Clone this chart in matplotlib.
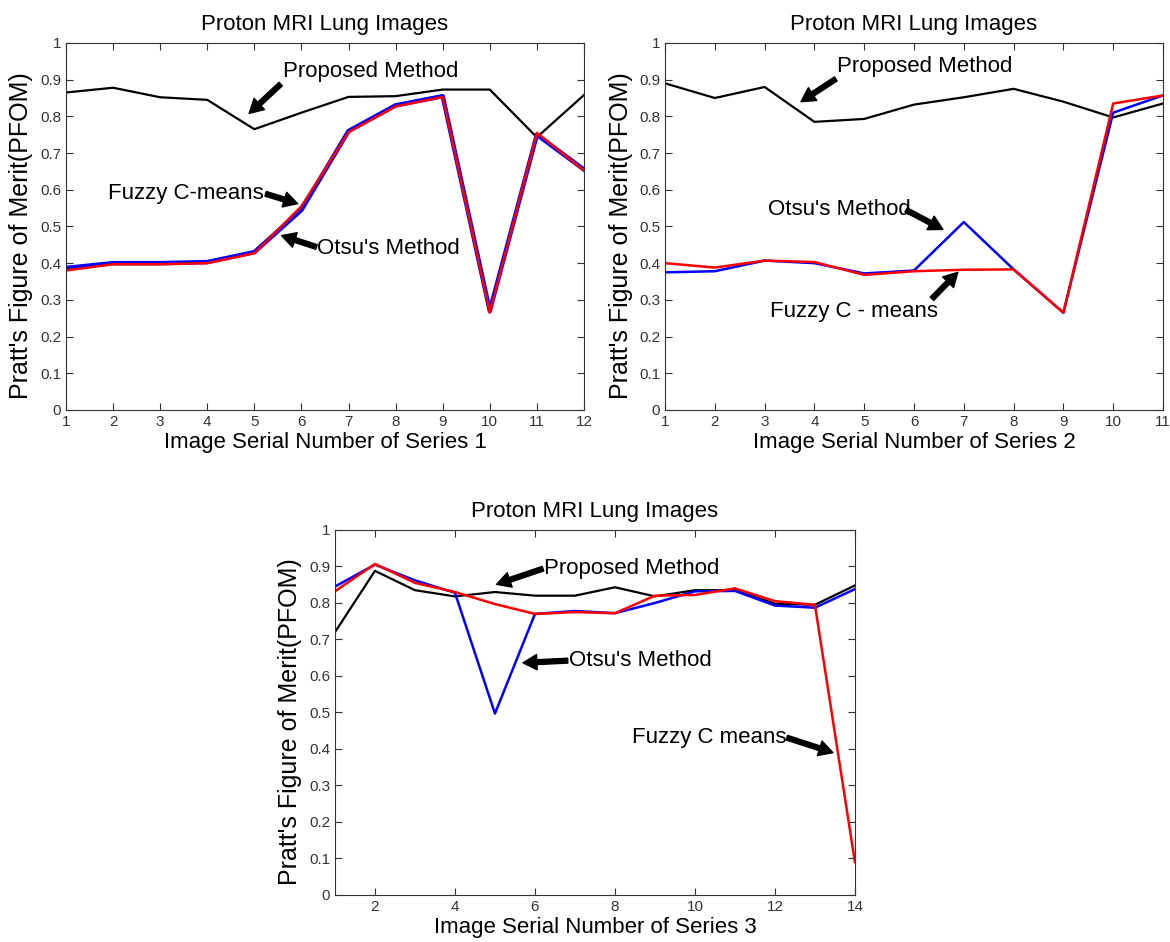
import matplotlib.pyplot as plt
import numpy as np

plt.rcParams['font.family'] = ['Liberation Sans', 'DejaVu Sans']

# ---- data ----
x1 = np.arange(1, 13)
prop1 = [0.865, 0.878, 0.852, 0.845, 0.765, 0.81, 0.853, 0.855, 0.873, 0.873, 0.743, 0.858]
otsu1 = [0.387, 0.400, 0.400, 0.403, 0.430, 0.545, 0.760, 0.830, 0.855, 0.270, 0.750, 0.655]
fcm1 = [0.380, 0.397, 0.397, 0.400, 0.427, 0.555, 0.757, 0.827, 0.853, 0.265, 0.755, 0.652]

x2 = np.arange(1, 12)
prop2 = [0.890, 0.850, 0.880, 0.785, 0.793, 0.832, 0.852, 0.875, 0.840, 0.797, 0.835]
otsu2 = [0.375, 0.378, 0.407, 0.400, 0.372, 0.380, 0.512, 0.383, 0.265, 0.810, 0.857]
fcm2 = [0.400, 0.388, 0.407, 0.403, 0.368, 0.378, 0.382, 0.383, 0.265, 0.835, 0.857]

x3 = np.arange(1, 15)
prop3 = [0.720, 0.888, 0.835, 0.818, 0.830, 0.820, 0.820, 0.843, 0.818, 0.835, 0.835, 0.798, 0.795, 0.848]
otsu3 = [0.845, 0.905, 0.862, 0.828, 0.497, 0.770, 0.778, 0.772, 0.800, 0.832, 0.833, 0.793, 0.787, 0.838]
fcm3 = [0.832, 0.907, 0.855, 0.830, 0.797, 0.770, 0.775, 0.772, 0.820, 0.822, 0.840, 0.805, 0.795, 0.090]

fig = plt.figure(figsize=(11.7, 9.42), dpi=100)
ax1 = fig.add_axes([0.0564, 0.5648, 0.4427, 0.3896])
ax2 = fig.add_axes([0.5684, 0.5648, 0.4256, 0.3896])
ax3 = fig.add_axes([0.2863, 0.0499, 0.4444, 0.3875])

arrow = dict(facecolor='black', edgecolor='black', width=3.5, headwidth=11, headlength=10, shrink=0)


def style(ax, xs, xticks, series_no):
    ax.set_xlim(xs[0], xs[-1])
    ax.set_ylim(0, 1)
    ax.set_xticks(xticks)
    ax.set_yticks(np.arange(0, 1.01, 0.1))
    ax.set_yticklabels(['0'] + [f'{v:.1f}' for v in np.arange(0.1, 0.95, 0.1)] + ['1'])
    ax.tick_params(direction='in', top=True, right=True, length=5, labelsize=11,
                   labelcolor='#333333', color='#333333')
    for sp in ax.spines.values():
        sp.set_color('#333333')
    ax.set_title('Proton MRI Lung Images', fontsize=16, pad=9)
    ax.set_xlabel(f'Image Serial Number of Series {series_no}', fontsize=16, labelpad=2)
    ax.set_ylabel("Pratt's Figure of Merit(PFOM)", fontsize=18, labelpad=0)
    ax.yaxis.set_label_coords(-0.064, 0.475)


def note(ax, text, txy, tail, tip):
    ax.text(txy[0], txy[1], text, fontsize=16, va='center', ha='left')
    ax.annotate('', xy=tip, xytext=tail, arrowprops=arrow)


# plot 1
ax1.plot(x1, prop1, color='black', lw=1.6)
ax1.plot(x1, otsu1, color='blue', lw=3.2)
ax1.plot(x1, fcm1, color='red', lw=1.8)
style(ax1, x1, x1, 1)
note(ax1, 'Proposed Method', (5.6, 0.921), (5.56, 0.888), (4.89, 0.808))
note(ax1, 'Fuzzy C-means', (1.9, 0.589), (5.24, 0.589), (5.92, 0.562))
note(ax1, "Otsu's Method", (6.33, 0.441), (6.32, 0.444), (5.58, 0.475))

# plot 2
ax2.plot(x2, prop2, color='black', lw=1.6)
ax2.plot(x2, otsu2, color='blue', lw=1.8)
ax2.plot(x2, fcm2, color='red', lw=1.8)
style(ax2, x2, x2, 2)
note(ax2, 'Proposed Method', (4.46, 0.935), (4.43, 0.902), (3.73, 0.840))
note(ax2, "Otsu's Method", (3.07, 0.545), (5.84, 0.545), (6.58, 0.492))
note(ax2, 'Fuzzy C - means', (3.11, 0.268), (6.36, 0.303), (6.88, 0.375))

# plot 3
ax3.plot(x3, prop3, color='black', lw=1.6)
ax3.plot(x3, otsu3, color='blue', lw=1.8)
ax3.plot(x3, fcm3, color='red', lw=1.8)
style(ax3, x3, np.arange(2, 15, 2), 3)
note(ax3, 'Proposed Method', (6.23, 0.894), (6.2, 0.894), (5.04, 0.851))
note(ax3, "Otsu's Method", (6.84, 0.642), (6.82, 0.642), (5.70, 0.636))
note(ax3, 'Fuzzy C means', (8.43, 0.431), (12.30, 0.431), (13.45, 0.39))

fig.savefig('out.png', dpi=100)
